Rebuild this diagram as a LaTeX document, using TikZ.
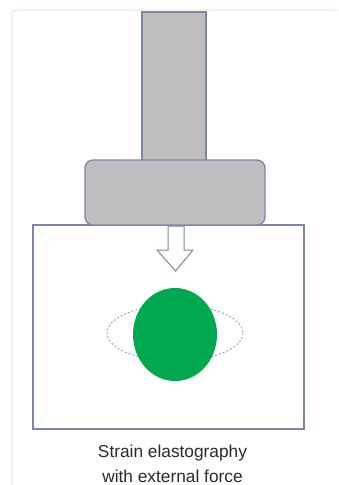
\documentclass[tikz,border=0pt]{standalone}
\usepackage{fontspec}
\setmainfont{Liberation Sans}
\begin{document}
\begin{tikzpicture}[x=1pt,y=-1pt,
  outl/.style={draw=strokeblue, line width=1.3pt},
  lbl/.style={font=\fontsize{17.3}{20}\selectfont, text=textgray, anchor=base, inner sep=0pt}]
\definecolor{strokeblue}{HTML}{7A88A4}
\definecolor{handlegray}{HTML}{BFBFBF}
\definecolor{framepeach}{HTML}{FCE9D4}
\definecolor{tumorgreen}{HTML}{00A84F}
\definecolor{textgray}{HTML}{2A2A2A}
\useasboundingbox (0,0) rectangle (338,485);
\fill[white] (0,0) rectangle (338,485);
% faint frame
\draw[framepeach, line width=1.2pt, rounded corners=4pt] (12,485) -- (12,10) -- (338,10);
% tissue box
\draw[outl] (33,225) rectangle (304,429);
% handle
\filldraw[outl, fill=handlegray] (142,12) rectangle (206,162);
% base
\filldraw[outl, fill=handlegray, rounded corners=8pt] (85,160) rectangle (265,225);
% hollow arrow
\filldraw[outl, fill=white, line width=1pt] (168,226) -- (184,226) -- (184,250) -- (193,250) -- (175.5,271) -- (157,250) -- (168,250) -- cycle;
% deformation ellipse
\draw[gray!75, dash pattern=on 2pt off 2pt, line width=0.9pt] (175,333) ellipse[x radius=68, y radius=28];
% lesion
\fill[tumorgreen] (175,334.5) ellipse[x radius=42, y radius=46.5];
% caption
\node[lbl] (l1) at (172.5,457) {Strain elastography};
\node[lbl] (l2) at (172.5,482) {with external force};
\end{tikzpicture}
\end{document}
